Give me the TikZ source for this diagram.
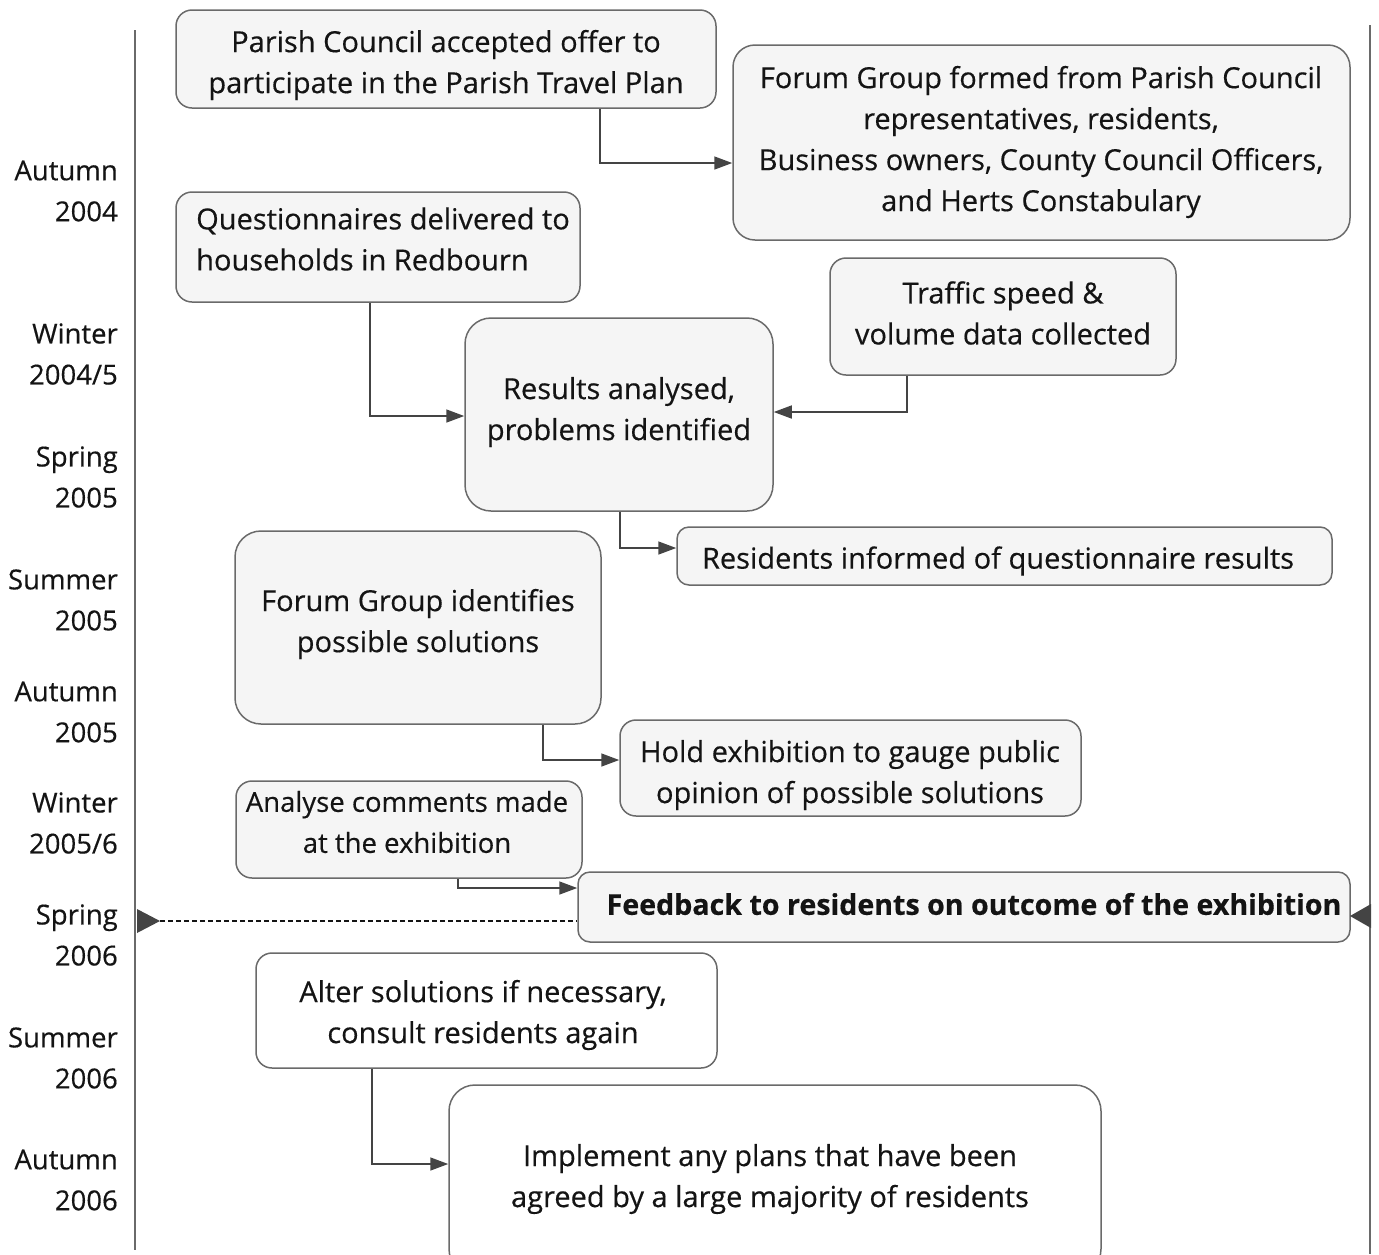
\documentclass[tikz,border=0pt]{standalone}
\usepackage{fontspec}
\setmainfont{Open Sans}[FakeBold=0.4]
\usetikzlibrary{arrows.meta,calc}
\definecolor{boxfill}{HTML}{F5F5F5}
\definecolor{edgec}{HTML}{6A6A6A}
\definecolor{arrc}{HTML}{444444}
\definecolor{inkc}{HTML}{141414}
\newcommand{\fs}{\fontsize{29}{41}\selectfont}
\newcommand{\fss}{\fontsize{27.5}{41}\selectfont}
\tikzset{
  box/.style={draw=edgec, line width=1.5pt, rounded corners=16pt, fill=boxfill, inner sep=0pt},
  wbox/.style={box, fill=white},
  txt/.style={align=center, font=\fs, text=inkc, inner sep=0pt},
  conn/.style={draw=arrc, line width=1.6pt, -{Triangle[length=18pt,width=13pt]}},
  tline/.style={draw=edgec, line width=1.6pt},
  when/.style={align=right, anchor=east, font=\fss, text=inkc, inner sep=0pt}
}
\begin{document}
\begin{tikzpicture}[x=1pt,y=-1pt]
\useasboundingbox (0,0) rectangle (1379,1254);
% timelines
\draw[tline] (135,30) coordinate (la) -- (135,1250) coordinate (lb);
\draw[tline] (1370,25) coordinate (ra) -- (1370,1254) coordinate (rb);
% time labels
\node[when] (t1) at (118,191) {Autumn\\2004};
\node[when] (t2) at (118,354) {Winter\\2004/5};
\node[when] (t3) at (118,477) {Spring\\2005};
\node[when] (t4) at (118,600) {Summer\\2005};
\node[when] (t5) at (118,712) {Autumn\\2005};
\node[when] (t6) at (118,823) {Winter\\2005/6};
\node[when] (t7) at (118,935) {Spring\\2006};
\node[when] (t8) at (118,1058) {Summer\\2006};
\node[when] (t9) at (118,1180) {Autumn\\2006};
% boxes
\node[box, minimum width=540pt, minimum height=98pt] (b1) at (446,59) {};
\node[txt] (x1) at (446,65) {Parish Council accepted offer to\\participate in the Parish Travel Plan};
\node[box, minimum width=617pt, minimum height=195pt, rounded corners=22pt] (b2) at (1041.5,142.5) {};
\node[txt] (x2) at (1041,142) {Forum Group formed from Parish Council\\representatives, residents,\\Business owners, County Council Officers,\\and Herts Constabulary};
\node[box, minimum width=404pt, minimum height=110pt] (b3) at (378,247) {};
\node[txt, align=left, anchor=west] (x3) at (196,239) {Questionnaires delivered to\\households in Redbourn};
\node[box, minimum width=346pt, minimum height=117pt] (b4) at (1003,316.5) {};
\node[txt] (x4) at (1003,313) {Traffic speed \&\\volume data collected};
\node[box, minimum width=308pt, minimum height=193pt, rounded corners=26pt] (b5) at (619,414.5) {};
\node[txt] (x5) at (619,412) {Results analysed,\\problems identified};
\node[box, minimum width=655pt, minimum height=58pt, rounded corners=12pt] (b6) at (1004.5,556) {};
\node[txt] (x6) at (998,561) {Residents informed of questionnaire results};
\node[box, minimum width=366pt, minimum height=193pt, rounded corners=26pt] (b7) at (418,627.5) {};
\node[txt] (x7) at (418,624) {Forum Group identifies\\possible solutions};
\node[box, minimum width=461pt, minimum height=96pt] (b8) at (850.5,768) {};
\node[txt] (x8) at (850,775) {Hold exhibition to gauge public\\opinion of possible solutions};
\node[box, minimum width=346pt, minimum height=97pt] (b9) at (409,829.5) {};
\node[txt, font=\fss] (x9) at (407,822) {Analyse comments made\\at the exhibition};
\node[box, minimum width=772pt, minimum height=70pt, rounded corners=12pt] (b10) at (964,907) {};
\node[txt, font=\fontsize{28.6}{41}\selectfont\bfseries] (x10) at (974,904) {Feedback to residents on outcome of the exhibition};
\node[wbox, minimum width=461pt, minimum height=115pt] (b11) at (486.5,1010.5) {};
\node[txt] (x11) at (483,1015) {Alter solutions if necessary,\\consult residents again};
\node[wbox, minimum width=652pt, minimum height=190pt, rounded corners=26pt] (b12) at (775,1180) {};
\node[txt] (x12) at (770,1179) {Implement any plans that have been\\agreed by a large majority of residents};
% connectors
\draw[conn] (b1.south -| 600,0) |- (b2.west |- 0,163);
\draw[conn] (b3.south -| 370,0) |- (b5.west |- 0,416);
\draw[conn] (b4.south -| 907,0) |- (b5.east |- 0,412);
\draw[conn] (b5.south -| 620,0) |- (b6.west |- 0,548);
\draw[conn] (b7.south -| 543,0) |- (b8.west |- 0,760);
\draw[conn] (b9.south -| 458,0) |- (b10.west |- 0,888);
\draw[conn] (b11.south -| 372,0) |- (b12.west |- 0,1164);
% dashed marker
\coordinate (dl) at (160,921);
\draw[draw=inkc, line width=1.3pt, dash pattern=on 5pt off 3pt] (dl) -- (b10.west |- 0,921);
\fill[arrc] (137,909) -- (dl) -- (137,933) -- cycle;
\coordinate (dr) at (1350,916);
\fill[arrc] (1371,904) -- (dr) -- (1371,928) -- cycle;
\end{tikzpicture}
\end{document}
